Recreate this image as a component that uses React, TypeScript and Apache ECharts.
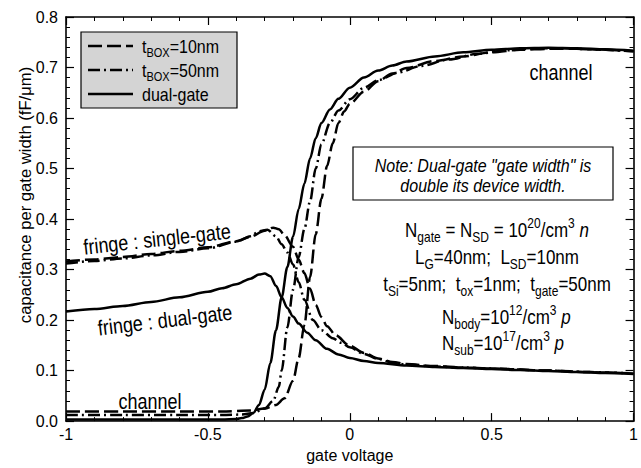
import React, { useEffect, useRef } from 'react';
import * as echarts from 'echarts';

const FONT = '"Liberation Sans", Arial, Helvetica, sans-serif';

// ---- data (gate voltage, capacitance fF/um) ----
const xTickLabels = ['-1', '-0.5', '0', '0.5', '1'];
const yTickLabels = ['0.0', '0.1', '0.2', '0.3', '0.4', '0.5', '0.6', '0.7', '0.8'];

const legendNames = ['t10', 't50', 'dg'];
const legendLabels = ['{n|t}{s|BOX}{n|=10nm}', '{n|t}{s|BOX}{n|=50nm}', '{n|dual-gate}'];

const fringeDualGate: [number, number][] = [
  [-1, 0.217], [-0.9, 0.222], [-0.8, 0.228], [-0.7, 0.236], [-0.6, 0.245], [-0.5, 0.256],
  [-0.45, 0.263], [-0.4, 0.271], [-0.35, 0.282], [-0.32, 0.29], [-0.3, 0.292], [-0.28, 0.287],
  [-0.26, 0.268], [-0.24, 0.245], [-0.22, 0.224], [-0.2, 0.207], [-0.18, 0.193], [-0.15, 0.175],
  [-0.12, 0.16], [-0.08, 0.143], [-0.04, 0.132], [0, 0.125], [0.05, 0.119], [0.1, 0.115],
  [0.2, 0.11], [0.3, 0.107], [0.4, 0.105], [0.5, 0.103], [0.6, 0.101], [0.7, 0.099],
  [0.8, 0.097], [0.9, 0.095], [1, 0.093],
];

const channelDualGate: [number, number][] = [
  [-1, 0.003], [-0.8, 0.003], [-0.6, 0.003], [-0.45, 0.003], [-0.4, 0.004], [-0.38, 0.006],
  [-0.36, 0.009], [-0.34, 0.016], [-0.32, 0.032], [-0.3, 0.062], [-0.28, 0.115], [-0.26, 0.18],
  [-0.24, 0.245], [-0.22, 0.305], [-0.2, 0.365], [-0.18, 0.42], [-0.16, 0.47], [-0.14, 0.52],
  [-0.12, 0.56], [-0.1, 0.59], [-0.07, 0.617], [-0.04, 0.638], [0, 0.66], [0.05, 0.68],
  [0.1, 0.694], [0.15, 0.704], [0.2, 0.712], [0.3, 0.722], [0.4, 0.73], [0.5, 0.735],
  [0.6, 0.738], [0.7, 0.739], [0.8, 0.738], [0.9, 0.736], [1, 0.733],
];

const fringeBox10: [number, number][] = [
  [-1, 0.316], [-0.9, 0.32], [-0.8, 0.325], [-0.7, 0.331], [-0.6, 0.337], [-0.5, 0.344],
  [-0.4, 0.356], [-0.35, 0.365], [-0.3, 0.377], [-0.27, 0.383], [-0.25, 0.38], [-0.23, 0.368],
  [-0.2, 0.345], [-0.18, 0.32], [-0.16, 0.293], [-0.14, 0.262], [-0.12, 0.23], [-0.1, 0.206],
  [-0.08, 0.188], [-0.05, 0.17], [0, 0.149], [0.05, 0.135], [0.1, 0.124], [0.15, 0.117],
  [0.2, 0.113], [0.3, 0.109], [0.4, 0.106], [0.5, 0.104], [0.7, 0.1], [0.85, 0.097], [1, 0.094],
];

const channelBox10: [number, number][] = [
  [-1, 0.019], [-0.8, 0.019], [-0.6, 0.019], [-0.45, 0.019], [-0.35, 0.021], [-0.3, 0.025],
  [-0.26, 0.032], [-0.23, 0.045], [-0.2, 0.08], [-0.18, 0.125], [-0.16, 0.19], [-0.14, 0.285],
  [-0.12, 0.37], [-0.1, 0.44], [-0.08, 0.505], [-0.06, 0.55], [-0.04, 0.59], [-0.02, 0.613],
  [0, 0.628], [0.05, 0.652], [0.1, 0.673], [0.15, 0.688], [0.2, 0.699], [0.3, 0.713],
  [0.4, 0.722], [0.5, 0.73], [0.6, 0.735], [0.7, 0.737], [0.8, 0.737], [0.9, 0.735], [1, 0.732],
];

const fringeBox50: [number, number][] = [
  [-1, 0.312], [-0.9, 0.317], [-0.8, 0.322], [-0.7, 0.328], [-0.6, 0.335], [-0.5, 0.342],
  [-0.4, 0.355], [-0.35, 0.366], [-0.32, 0.376], [-0.29, 0.379], [-0.26, 0.366], [-0.24, 0.35],
  [-0.22, 0.334], [-0.2, 0.31], [-0.18, 0.275], [-0.16, 0.24], [-0.13, 0.2], [-0.1, 0.18],
  [-0.06, 0.164], [-0.03, 0.155], [0, 0.146], [0.05, 0.133], [0.1, 0.123], [0.15, 0.116],
  [0.2, 0.112], [0.3, 0.108], [0.4, 0.106], [0.5, 0.104], [0.7, 0.1], [0.85, 0.097], [1, 0.094],
];

const channelBox50: [number, number][] = [
  [-1, 0.012], [-0.8, 0.012], [-0.6, 0.012], [-0.45, 0.012], [-0.38, 0.013], [-0.34, 0.016],
  [-0.3, 0.025], [-0.27, 0.04], [-0.25, 0.068], [-0.24, 0.1], [-0.22, 0.185], [-0.2, 0.26],
  [-0.18, 0.325], [-0.16, 0.38], [-0.14, 0.435], [-0.12, 0.5], [-0.1, 0.548], [-0.07, 0.59],
  [-0.04, 0.615], [0, 0.637], [0.05, 0.66], [0.1, 0.675], [0.17, 0.69], [0.25, 0.703],
  [0.35, 0.716], [0.45, 0.727], [0.55, 0.734], [0.65, 0.738], [0.75, 0.738], [0.85, 0.736], [1, 0.732],
];

const paramLines = [
  '{n|N}{sub|gate}{n| = N}{sub|SD}{n| = 10}{sup|20}{n|/cm}{sup|3}{n| }{it|n}',
  '{n|L}{sub|G}{n|=40nm;  L}{sub|SD}{n|=10nm}',
  '{n|t}{sub|Si}{n|=5nm;  t}{sub|ox}{n|=1nm;  t}{sub|gate}{n|=50nm}',
  '{n|N}{sub|body}{n|=10}{sup|12}{n|/cm}{sup|3}{n| }{it|p}',
  '{n|N}{sub|sub}{n|=10}{sup|17}{n|/cm}{sup|3}{n| }{it|p}',
];

const noteLines = ['Note: Dual-gate "gate width" is', 'double its device width.'];

const BLACK = '#000';
const SY = 1.2;
const LW = 2.5;

const DASH = [14, 5];
const DASHDOT = [12, 4, 2, 4];
const legendDash: any[] = [DASH, DASHDOT, null];

const lineSeries = (name: string, data: [number, number][], type: any) => ({
  type: 'line',
  name,
  data,
  symbol: 'none',
  showSymbol: false,
  smooth: 0.3,
  smoothMonotone: 'x',
  xAxisIndex: 0,
  yAxisIndex: 0,
  lineStyle: { color: BLACK, width: LW, type },
  itemStyle: { color: BLACK },
  z: 3,
});

const richParam = {
  n: { fontSize: 17, lineHeight: 24, fontFamily: FONT, fill: BLACK },
  it: { fontSize: 17, lineHeight: 24, fontFamily: FONT, fontStyle: 'italic', fill: BLACK },
  sub: { fontSize: 12, lineHeight: 12, verticalAlign: 'bottom', fontFamily: FONT, fill: BLACK },
  sup: { fontSize: 12, lineHeight: 12, verticalAlign: 'top', fontFamily: FONT, fill: BLACK },
};

const richLegend = {
  n: { fontSize: 16, lineHeight: 22, fontFamily: FONT, fill: BLACK },
  s: { fontSize: 11, lineHeight: 11, verticalAlign: 'bottom', fontFamily: FONT, fill: BLACK },
};

const textEl = (x: number, y: number, text: string, opts: any = {}) => ({
  type: 'text',
  x,
  y,
  rotation: opts.rotation || 0,
  scaleX: opts.scaleX || 1,
  scaleY: opts.scaleY || SY,
  z: 10,
  style: {
    text,
    fill: BLACK,
    font: opts.font || `18px ${FONT}`,
    align: opts.align || 'center',
    verticalAlign: 'middle',
    rich: opts.rich,
  },
});

function makeAxis(pos: string, isX: boolean, showLabels: boolean, labels: string[]) {
  return {
    type: 'value',
    position: pos,
    min: isX ? -1 : 0,
    max: isX ? 1 : 0.8,
    interval: isX ? 0.5 : 0.1,
    axisLine: { show: true, onZero: false, lineStyle: { color: BLACK, width: 1.6 } },
    axisTick: { show: true, inside: true, length: 8, lineStyle: { color: BLACK, width: 1.2 } },
    minorTick: { show: true, splitNumber: 5, length: 4, lineStyle: { color: BLACK, width: 1 } },
    splitLine: { show: false },
    minorSplitLine: { show: false },
    axisLabel: {
      show: showLabels,
      color: BLACK,
      fontSize: 16,
      fontFamily: FONT,
      margin: isX ? 5 : 8,
      formatter: (v: number) => {
        const idx = Math.round(isX ? (v + 1) / 0.5 : v / 0.1);
        return labels[idx] ?? '';
      },
    },
  } as any;
}

function legendGraphic() {
  const els: any[] = [
    {
      type: 'rect',
      shape: { x: 81, y: 32, width: 156, height: 76 },
      style: { fill: '#d4d4d4', stroke: BLACK, lineWidth: 1.2 },
      z: 9,
    },
  ];
  const rows = [46, 70, 94];
  legendNames.forEach((_, i) => {
    els.push({
      type: 'line',
      shape: { x1: 88, y1: rows[i], x2: 133, y2: rows[i] },
      style: { stroke: BLACK, lineWidth: LW, lineDash: legendDash[i] || undefined },
      z: 10,
    });
    els.push(textEl(142, rows[i], legendLabels[i], { rich: richLegend, font: `16px ${FONT}`, align: 'left' }));
  });
  return els;
}

export default function App() {
  const ref = useRef<HTMLDivElement>(null);
  useEffect(() => {
    if (!ref.current) return;
    const chart = echarts.init(ref.current, undefined, { renderer: 'svg' });
    const option: any = {
      animation: false,
      backgroundColor: '#fff',
      textStyle: { fontFamily: FONT },
      grid: { left: 66, right: 5, top: 17, bottom: 42 },
      xAxis: [
        {
          ...makeAxis('bottom', true, true, xTickLabels),
          name: 'gate voltage',
          nameLocation: 'middle',
          nameGap: 24,
          nameTextStyle: { color: BLACK, fontSize: 16, fontFamily: FONT },
        },
        makeAxis('top', true, false, xTickLabels),
      ],
      yAxis: [makeAxis('left', false, true, yTickLabels), makeAxis('right', false, false, yTickLabels)],
      series: [
        lineSeries('t10', fringeBox10, DASH),
        lineSeries('t10', channelBox10, DASH),
        lineSeries('t50', fringeBox50, DASHDOT),
        lineSeries('t50', channelBox50, DASHDOT),
        lineSeries('dg', fringeDualGate, 'solid'),
        lineSeries('dg', channelDualGate, 'solid'),
      ],
      graphic: [
        textEl(25, 195, 'capacitance per gate width (fF/\u03bcm)', {
          rotation: Math.PI / 2,
          scaleX: 1.04,
          scaleY: 1,
          font: `16px ${FONT}`,
        }),
        textEl(157, 239, 'fringe : single-gate', { rotation: 0.11 }),
        textEl(165, 320, 'fringe : dual-gate', { rotation: 0.12 }),
        textEl(150, 401, 'channel'),
        textEl(561, 72, 'channel'),
        {
          type: 'rect',
          shape: { x: 353, y: 147, width: 260, height: 53 },
          style: { fill: '#fff', stroke: BLACK, lineWidth: 1.2 },
          z: 9,
        },
        textEl(483, 165, noteLines[0], { font: `italic 16px ${FONT}` }),
        textEl(483, 185, noteLines[1], { font: `italic 16px ${FONT}` }),
        textEl(497, 230, paramLines[0], { rich: richParam, font: `17px ${FONT}` }),
        textEl(497, 257, paramLines[1], { rich: richParam, font: `17px ${FONT}` }),
        textEl(497, 284, paramLines[2], { rich: richParam, font: `17px ${FONT}` }),
        textEl(442, 317, paramLines[3], { rich: richParam, font: `17px ${FONT}`, align: 'left' }),
        textEl(442, 343, paramLines[4], { rich: richParam, font: `17px ${FONT}`, align: 'left' }),
        ...legendGraphic(),
      ],
    };
    chart.setOption(option);
    return () => chart.dispose();
  }, []);
  return (
    <div
      ref={ref}
      style={{ position: 'fixed', left: 0, top: 0, width: 641, height: 468, background: '#fff' }}
    />
  );
}
